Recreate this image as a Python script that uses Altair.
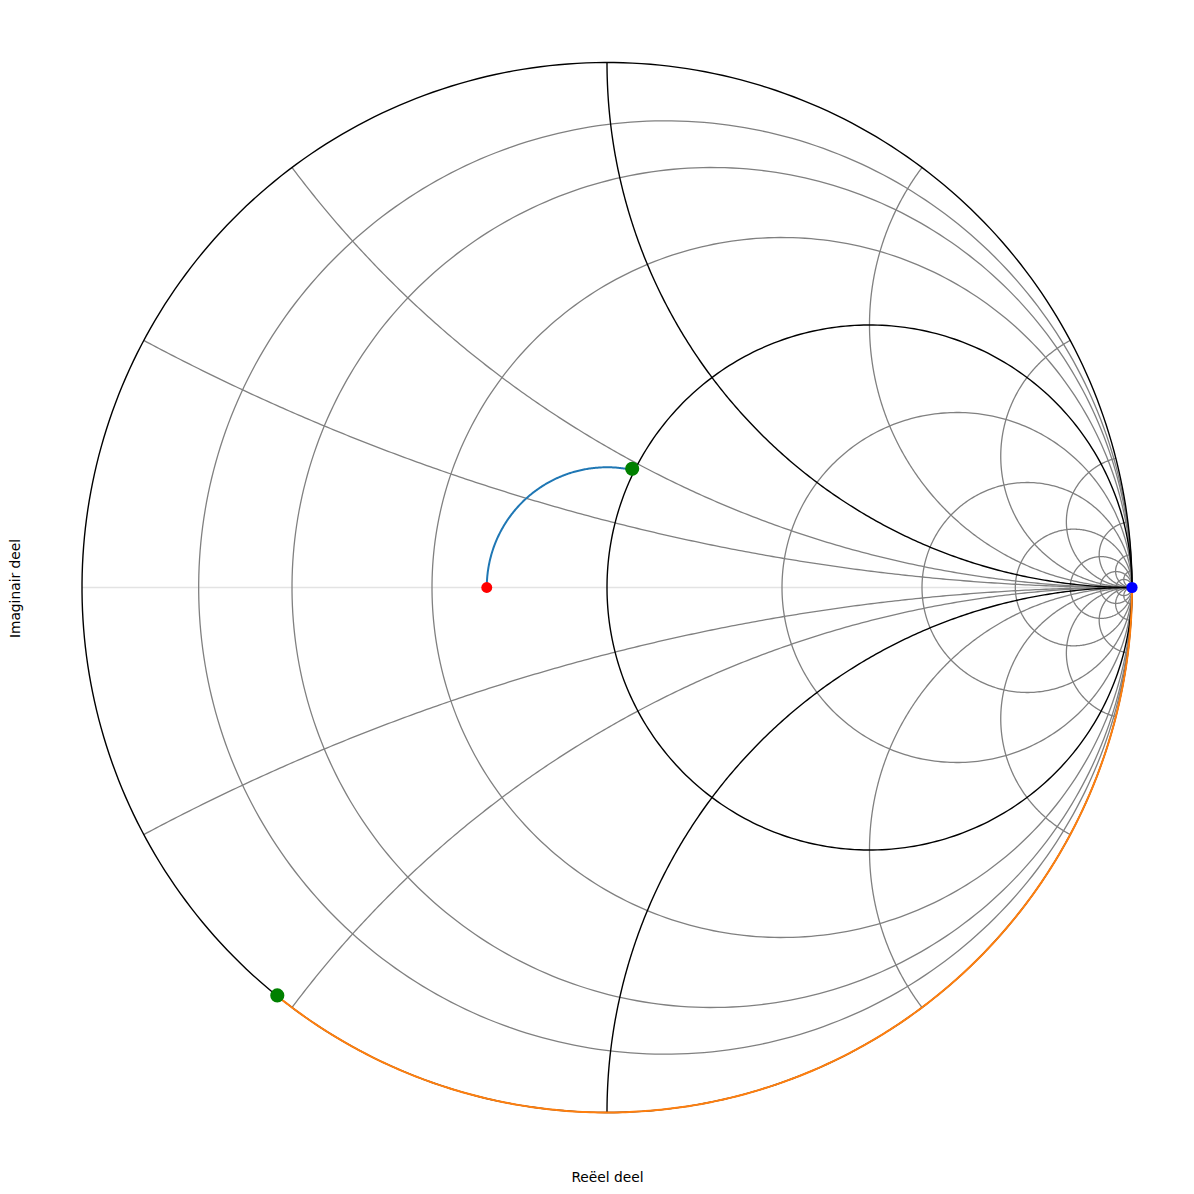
import numpy as np
import pandas as pd
import altair as alt

# ---- chart values ----
r_gray = [0.125, 0.25, 0.5, 2, 4, 8, 16, 32, 64]          # constant-resistance circles (gray)
x_gray = [0.25, 0.5, 2, 4, 8, 16, 32, 64]                  # constant-reactance arcs (gray, +/-)
r_black = [0, 1]                                            # highlighted resistance circles
x_black = [1, -1]                                           # highlighted reactance arcs

load_point = (-0.229, 0.0)        # red marker (reflection coefficient of load)
match_point = (0.048, 0.226)      # green marker on r = 1 circle
stub_end_point = (-0.628, -0.777) # green marker on outer circle
stub_start_point = (1.0, 0.0)     # blue marker (open end)

title_x = "Reëel deel"
title_y = "Imaginair deel"


# ---- geometry helpers (Smith chart construction) ----
def r_circle(r, n=360):
    c = r / (1 + r)
    rad = 1 / (1 + r)
    t = np.linspace(0, 2 * np.pi, n)
    return c + rad * np.cos(t), rad * np.sin(t)


def x_arc(x, n=300):
    ax = abs(x)
    cy = 1 / ax
    g0 = complex(ax * ax - 1, 2 * ax) / (ax * ax + 1)
    phi0 = np.arctan2(g0.imag - cy, g0.real - 1) % (2 * np.pi)
    t = np.linspace(phi0, 1.5 * np.pi, n)
    gx = 1 + cy * np.cos(t)
    gy = cy + cy * np.sin(t)
    if x < 0:
        gy = -gy
    return gx, gy


def frame(curves):
    rows = []
    for k, (gx, gy) in enumerate(curves):
        for i, (a, b) in enumerate(zip(gx, gy)):
            rows.append({"k": k, "i": i, "gx": round(float(a), 5), "gy": round(float(b), 5)})
    return pd.DataFrame(rows)


gray_curves = [r_circle(r) for r in r_gray]
for xv in x_gray:
    gray_curves.append(x_arc(xv))
    gray_curves.append(x_arc(-xv))
black_curves = [r_circle(r) for r in r_black] + [x_arc(xv) for xv in x_black]
axis_curve = [(np.array([-1.0, 1.0]), np.array([0.0, 0.0]))]

# blue: constant |Gamma| rotation from load to match point
rad_l = np.hypot(*load_point)
a0 = np.arctan2(load_point[1], load_point[0])
a1 = np.arctan2(match_point[1], match_point[0])
ta = np.linspace(a0, a1, 200)
blue_curve = [(rad_l * np.cos(ta), rad_l * np.sin(ta))]

# orange: stub along outer circle from open end to stub end
b0 = np.arctan2(stub_start_point[1], stub_start_point[0])
b1 = np.arctan2(stub_end_point[1], stub_end_point[0])
tb = np.linspace(b0, b1, 300)
orange_curve = [(np.cos(tb), np.sin(tb))]

pts = pd.DataFrame({
    "gx": [load_point[0], match_point[0], stub_end_point[0], stub_start_point[0]],
    "gy": [load_point[1], match_point[1], stub_end_point[1], stub_start_point[1]],
    "c": ["red", "green", "green", "blue"],
    "s": [120, 200, 200, 125],
})

# ---- scales / axes ----
xs = alt.Scale(domain=[-1.099048, 1.072381], nice=False, zero=False)
ys = alt.Scale(domain=[-1.071429, 1.080952], nice=False, zero=False)
xaxis = alt.Axis(title=title_x, labels=False, ticks=False, domain=False, grid=False,
                 titleFont="DejaVu Sans", titleFontSize=13.8, titleFontWeight="normal",
                 titleColor="#000000", titleX=577, titleY=27, titleBaseline="middle")
yaxis = alt.Axis(title=title_y, labels=False, ticks=False, domain=False, grid=False,
                 titleFont="DejaVu Sans", titleFontSize=13.8, titleFontWeight="normal",
                 titleColor="#000000", titleX=-14.5, titleY=568, titleBaseline="middle",
                 titleAngle=270)


def line_layer(df, color, width):
    return alt.Chart(df).mark_line(color=color, strokeWidth=width).encode(
        x=alt.X("gx:Q", scale=xs, axis=xaxis),
        y=alt.Y("gy:Q", scale=ys, axis=yaxis),
        detail="k:N",
        order="i:Q",
    )


layers = [
    line_layer(frame(axis_curve), "#e3e3e3", 1.6),
    line_layer(frame(gray_curves), "#808080", 1.3),
    line_layer(frame(black_curves), "#000000", 1.4),
    line_layer(frame(blue_curve), "#1f77b4", 2.0),
    line_layer(frame(orange_curve), "#ff7f0e", 2.0),
    alt.Chart(pts).mark_circle(opacity=1).encode(
        x=alt.X("gx:Q", scale=xs, axis=xaxis),
        y=alt.Y("gy:Q", scale=ys, axis=yaxis),
        color=alt.Color("c:N", scale=None),
        size=alt.Size("s:Q", scale=None),
    ),
]

chart = alt.layer(*layers).properties(
    width=1140,
    height=1130,
    autosize=alt.AutoSizeParams(type="none"),
    padding={"left": 22, "top": 12, "right": 0, "bottom": 34},
    background="white",
).configure_view(stroke=None)

chart.save("out.html", embed_options={"renderer": "svg", "actions": False})
